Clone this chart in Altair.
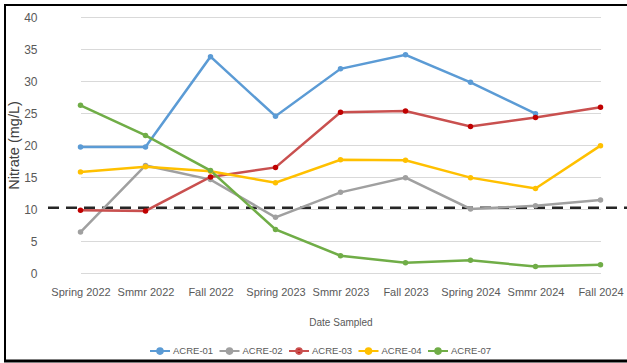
import altair as alt
import pandas as pd

dates = ["Spring 2022", "Smmr 2022", "Fall 2022", "Spring 2023", "Smmr 2023",
         "Fall 2023", "Spring 2024", "Smmr 2024", "Fall 2024"]
sites = ["ACRE-01", "ACRE-02", "ACRE-03", "ACRE-04", "ACRE-07"]
acre01 = [19.7, 19.7, 33.8, 24.5, 31.9, 34.1, 29.8, 24.9, None]
acre02 = [6.4, 16.8, 14.6, 8.7, 12.6, 14.9, 10.0, 10.5, 11.4]
acre03 = [9.8, 9.7, 15.0, 16.5, 25.1, 25.3, 22.9, 24.3, 25.9]
acre04 = [15.8, 16.6, 15.9, 14.1, 17.7, 17.6, 14.9, 13.2, 19.9]
acre07 = [26.2, 21.5, 16.0, 6.8, 2.7, 1.6, 2.0, 1.0, 1.3]
threshold = [10.2]
y_ticks = [0, 5, 10, 15, 20, 25, 30, 35, 40]

line_colors = ["#5b9bd5", "#a0a0a0", "#c9504f", "#ffc000", "#70ad47"]
point_colors = ["#5b9bd5", "#a0a0a0", "#c00000", "#ffc000", "#70ad47"]

rows = []
for s, vals in zip(sites, [acre01, acre02, acre03, acre04, acre07]):
    for d, v in zip(dates, vals):
        if v is not None:
            rows.append({"Site": s, "Date": d, "Value": v})
df = pd.DataFrame(rows)

FONT = "Liberation Sans"
W, H = 579, 256

x_axis = alt.Axis(title="Date Sampled", labelAngle=0, ticks=False, tickSize=0,
                  domain=False, grid=False, labelPadding=13, labelFontSize=11,
                  labelColor="#595959", labelFont=FONT, titleFont=FONT,
                  titleFontSize=10, titleFontWeight="normal", titleColor="#595959",
                  titlePadding=20)
y_axis = alt.Axis(title="Nitrate (mg/L)", values=y_ticks, tickCount=9, ticks=False, tickSize=0,
                  domain=False, grid=True, gridColor="#d9d9d9", gridWidth=1,
                  labelPadding=11, labelFontSize=12, labelColor="#595959",
                  labelFont=FONT, titleFont=FONT, titleFontSize=14.5,
                  titleFontWeight="normal", titleColor="#404040", titlePadding=2)
x_scale = alt.Scale(type="point", domain=dates, range=[32.5, 552.5], padding=0)
y_scale = alt.Scale(domain=[0, 40], nice=False, zero=True)

legend_path = "M-1,0H1M-0.28,0A0.28,0.28,0,1,1,0.28,0A0.28,0.28,0,1,1,-0.28,0Z"


def make_legend():
    return alt.Legend(title=None, orient="none", direction="horizontal",
                      legendX=101, legendY=323, symbolType=legend_path,
                      symbolSize=400, symbolStrokeWidth=2, labelOffset=2,
                      columnPadding=1.5, labelFont=FONT, labelFontSize=9.5,
                      labelColor="#595959", symbolOpacity=1)


lines = alt.Chart(df).mark_line(strokeWidth=2.5).encode(
    x=alt.X("Date:N", sort=dates, scale=x_scale, axis=x_axis),
    y=alt.Y("Value:Q", scale=y_scale, axis=y_axis),
    stroke=alt.Stroke("Site:N", sort=sites,
                      scale=alt.Scale(domain=sites, range=line_colors),
                      legend=make_legend()),
)

points = alt.Chart(df).mark_point(filled=True, size=30, opacity=1).encode(
    x=alt.X("Date:N", sort=dates, scale=x_scale, axis=x_axis),
    y=alt.Y("Value:Q", scale=y_scale, axis=y_axis),
    fill=alt.Fill("Site:N", sort=sites, scale=alt.Scale(domain=sites, range=point_colors),
                  legend=make_legend()),
)

thr = alt.Chart(pd.DataFrame({"t": threshold})).mark_rule(
    color="#262626", strokeWidth=2.5, strokeDash=[11, 7]).encode(
    y=alt.Y("t:Q", scale=y_scale, axis=y_axis), x=alt.value(0), x2=alt.value(W))

border_left = alt.Chart(pd.DataFrame({"a": [0]})).mark_rule(color="#000000", strokeWidth=2).encode(
    x=alt.value(-43), y=alt.value(-12), y2=alt.value(344))
border_top = alt.Chart(pd.DataFrame({"a": [0]})).mark_rule(color="#000000", strokeWidth=2).encode(
    x=alt.value(-44), x2=alt.value(W + 5), y=alt.value(-12))
border_bottom = alt.Chart(pd.DataFrame({"a": [0]})).mark_rule(color="#000000", strokeWidth=3).encode(
    x=alt.value(-44), x2=alt.value(W + 5), y=alt.value(344))

chart = alt.layer(thr, lines, points, border_left, border_top, border_bottom).properties(
    width=W, height=H,
    autosize=alt.AutoSizeParams(type="none"),
    padding={"left": 48, "top": 17, "right": 0, "bottom": 90},
    background="white",
).configure_view(stroke=None)

chart.save("out.html", embed_options={"renderer": "svg", "actions": False})
